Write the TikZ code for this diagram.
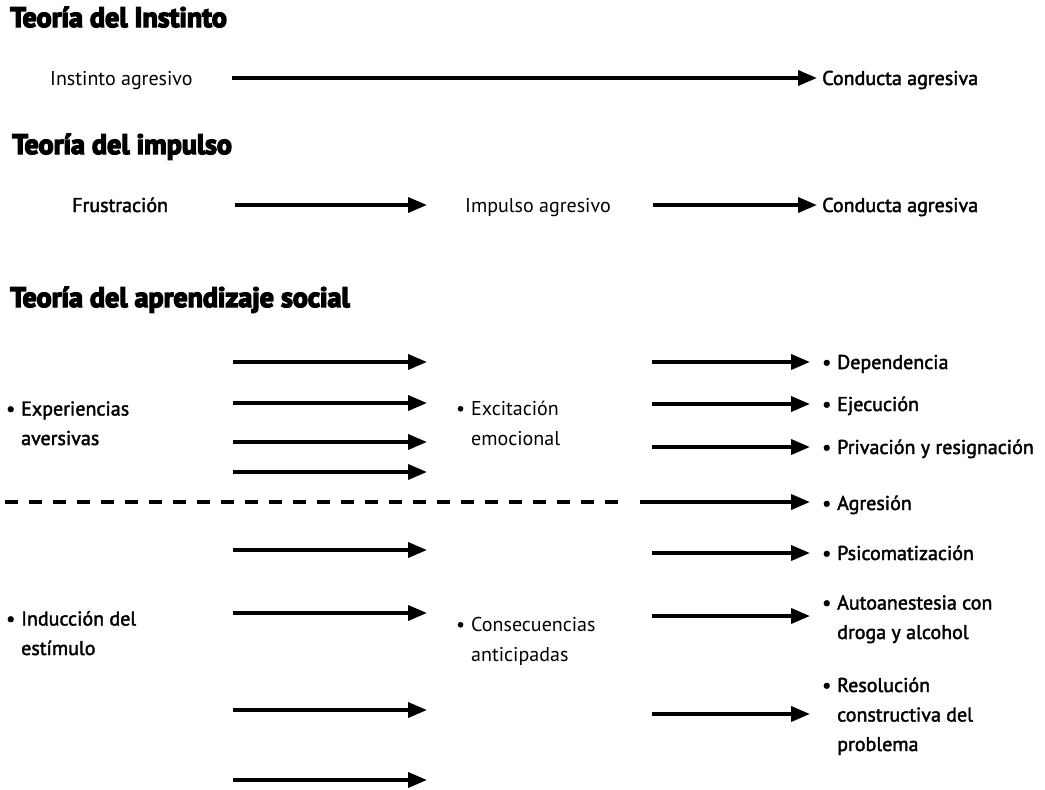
\documentclass[tikz,border=0pt]{standalone}
\usepackage{fontspec}
\usetikzlibrary{arrows.meta}
\setmainfont{PT Sans}
\newfontfamily\semifont{PT Sans}[FakeBold=2]
\newfontfamily\headfont{PT Sans}[FakeBold=5]
\newcommand{\bul}{\makebox[15pt][l]{\textbullet}}
\newcommand{\ind}{\hspace*{15pt}}
\begin{document}
\begin{tikzpicture}[x=1pt,y=-1pt,
  txt/.style={anchor=base west,inner sep=0pt,align=left,font=\fontsize{20}{29.5}\selectfont},
  semi/.style={anchor=base west,inner sep=0pt,align=left,font=\semifont\fontsize{20}{29.5}\selectfont},
  head/.style={anchor=base west,inner sep=0pt,font=\headfont\bfseries\fontsize{28}{30}\selectfont},
  arr/.style={line width=3.6pt,-{Triangle[length=19pt,width=15pt]}},
  dashline/.style={line width=3.6pt,dash pattern=on 13pt off 11pt}]
\useasboundingbox (0,0) rectangle (1045,790);

% headings
\node[head] (h1) at (10,27) {Teoría del Instinto};
\node[head] (h2) at (12,154) {Teoría del impulso};
\node[head] (h3) at (10,307) {Teoría del aprendizaje social};

% row 1
\node[txt]  (ia)  at (50,85)  {Instinto agresivo};
\node[semi] (ca1) at (822,85) {Conducta agresiva};
\coordinate (a1s) at (232,78); \coordinate (a1e) at (817,78);
\draw[arr] (a1s) -- (a1e);

% row 2
\node[semi] (fr)  at (72,212)  {Frustración};
\node[txt]  (ip)  at (465,212) {Impulso agresivo};
\node[semi] (ca2) at (822,212) {Conducta agresiva};
\coordinate (a2s) at (235,205); \coordinate (a2e) at (427,205);
\coordinate (a3s) at (653,205); \coordinate (a3e) at (817,205);
\draw[arr] (a2s) -- (a2e);
\draw[arr] (a3s) -- (a3e);

% social learning: left column
\node[semi] (exp) at (6,445) {\bul Experiencias\\\ind aversivas};
\node[semi] (ind) at (6,655) {\bul Inducción del\\\ind estímulo};

% middle column
\node[txt] (exc) at (456,445) {\bul Excitación\\\ind emocional};
\node[txt] (con) at (456,661) {\bul Consecuencias\\\ind anticipadas};

% right column
\node[semi] (dep) at (822,369) {\bul Dependencia};
\node[semi] (eje) at (822,411) {\bul Ejecución};
\node[semi] (pri) at (822,454) {\bul Privación y resignación};
\node[semi] (agr) at (822,510) {\bul Agresión};
\node[semi] (psi) at (822,560) {\bul Psicomatización};
\node[semi] (aut) at (822,639) {\bul Autoanestesia con\\\ind droga y alcohol};
\node[semi] (res) at (822,751) {\bul Resolución\\\ind constructiva del\\\ind problema};

% left arrows
\foreach \n/\y in {1/362,2/403,3/442,4/472,5/550,6/613,7/710,8/780}{
  \coordinate (l\n s) at (233,\y); \coordinate (l\n e) at (427,\y);
  \draw[arr] (l\n s) -- (l\n e);
}
% right arrows
\foreach \n/\y in {1/362,2/404,3/447,5/553,6/616,7/714}{
  \coordinate (r\n s) at (652,\y); \coordinate (r\n e) at (810,\y);
  \draw[arr] (r\n s) -- (r\n e);
}
% dashed line to aggression
\coordinate (ds) at (5,502); \coordinate (de) at (628,502);
\draw[dashline] (ds) -- (de);
\coordinate (r4s) at (640,502); \coordinate (r4e) at (810,502);
\draw[arr] (r4s) -- (r4e);
\end{tikzpicture}
\end{document}
